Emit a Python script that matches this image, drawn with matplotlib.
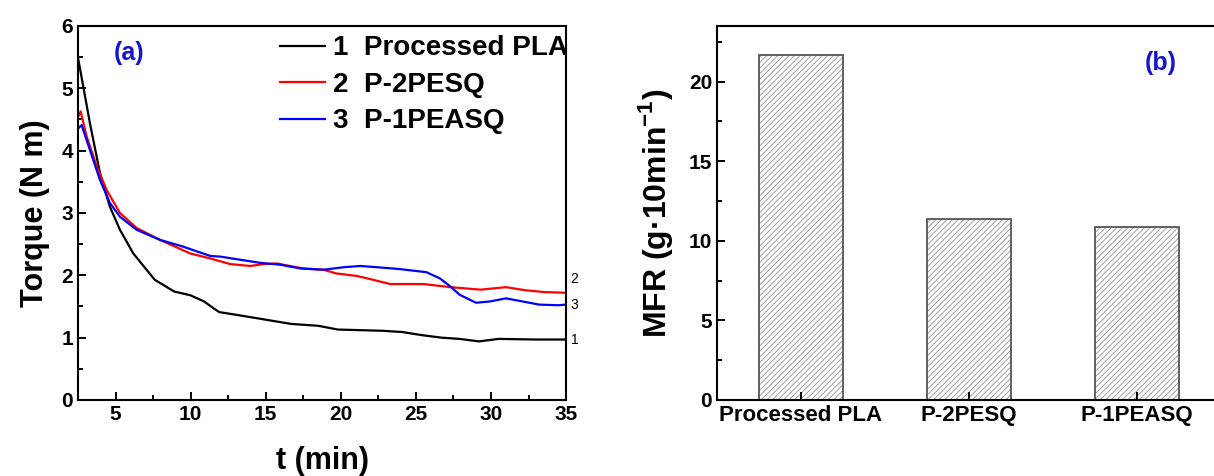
import matplotlib.pyplot as plt
from matplotlib.ticker import MultipleLocator

plt.rcParams['font.family'] = ['Liberation Sans', 'DejaVu Sans']
plt.rcParams['font.weight'] = 'bold'
plt.rcParams['axes.labelweight'] = 'bold'
plt.rcParams['mathtext.fontset'] = 'custom'
plt.rcParams['mathtext.rm'] = 'Liberation Sans:bold'
plt.rcParams['mathtext.bf'] = 'Liberation Sans:bold'
plt.rcParams['hatch.linewidth'] = 0.7

# torque curves
t_pla = [2.52, 3.29, 3.96, 4.62, 5.29, 6.18, 7.06, 7.6, 8.9, 9.98, 10.9, 11.53, 11.9, 13.2,
         15.2, 16.7, 18.5, 19.8, 22.8, 24.1, 25.4, 26.7, 27.9, 29.2, 30.5, 33.0, 35.0]
tq_pla = [5.46, 4.44, 3.64, 3.10, 2.73, 2.35, 2.09, 1.93, 1.74, 1.68, 1.58, 1.47, 1.41, 1.36,
          1.28, 1.22, 1.19, 1.13, 1.11, 1.09, 1.04, 1.00, 0.98, 0.94, 0.98, 0.97, 0.97]

t_pesq = [2.52, 2.67, 3.07, 3.74, 4.40, 5.29, 6.40, 7.94, 9.98, 11.31, 12.64, 13.97, 14.86,
          15.75, 16.6, 17.5, 18.84, 19.7, 21.06, 21.95, 23.28, 25.5, 27.3, 29.3, 31.0, 32.3,
          33.6, 35.0]
tq_pesq = [4.55, 4.63, 4.23, 3.75, 3.37, 3.00, 2.76, 2.57, 2.35, 2.27, 2.18, 2.15, 2.18,
           2.19, 2.15, 2.11, 2.09, 2.03, 1.99, 1.94, 1.86, 1.86, 1.81, 1.77, 1.81, 1.76,
           1.73, 1.72]

t_peasq = [2.52, 2.74, 3.29, 3.96, 4.62, 5.29, 6.40, 7.94, 9.5, 9.98, 11.31, 11.98, 13.3,
           14.64, 15.97, 17.3, 18.84, 20.2, 21.3, 22.4, 23.93, 25.7, 26.6, 27.3, 27.9, 29.0,
           29.9, 31.0, 31.9, 33.2, 34.5, 35.0]
tq_peasq = [4.36, 4.41, 4.01, 3.53, 3.16, 2.94, 2.73, 2.57, 2.46, 2.42, 2.31, 2.30, 2.25,
            2.20, 2.17, 2.11, 2.09, 2.13, 2.15, 2.13, 2.10, 2.05, 1.95, 1.82, 1.69, 1.56,
            1.58, 1.63, 1.59, 1.53, 1.52, 1.53]

samples = ['Processed PLA', 'P-2PESQ', 'P-1PEASQ']
mfr = [21.7, 11.4, 10.9]

fig = plt.figure(figsize=(12.14, 4.76), dpi=100)

# (a) torque vs time
ax1 = fig.add_axes([0.0643, 0.1597, 0.402, 0.7857])
ax1.plot(t_pla, tq_pla, color='black', lw=1.6, label='1  Processed PLA')
ax1.plot(t_pesq, tq_pesq, color='#ff0000', lw=1.6, label='2  P-2PESQ')
ax1.plot(t_peasq, tq_peasq, color='#0000ff', lw=1.6, label='3  P-1PEASQ')
ax1.set_xlim(2.5, 35)
ax1.set_ylim(0, 6)
ax1.xaxis.set_major_locator(MultipleLocator(5))
ax1.xaxis.set_minor_locator(MultipleLocator(2.5))
ax1.yaxis.set_major_locator(MultipleLocator(1))
ax1.yaxis.set_minor_locator(MultipleLocator(0.5))
ax1.tick_params(which='both', direction='in', labelsize=15, width=1.4)
ax1.tick_params(which='major', length=6)
ax1.tick_params(which='minor', length=3.5)
ax1.set_xlabel('t (min)', fontsize=22, labelpad=16)
ax1.set_ylabel('Torque (N m)', fontsize=22, labelpad=8)
ax1.text(5.9, 5.56, '(a)', color='#1515d0', fontsize=18, ha='center', va='center')
for y, s in [(1.94, '2'), (1.52, '3'), (0.97, '1')]:
    ax1.text(35.3, y, s, fontsize=10, fontweight='normal', va='center', clip_on=False)
ax1.legend(loc='upper left', bbox_to_anchor=(0.403, 0.99), frameon=False, fontsize=20,
           handlelength=1.6, handletextpad=0.3, labelspacing=0.38, borderaxespad=0,
           borderpad=0.2)
for sp in ax1.spines.values():
    sp.set_linewidth(1.5)

# (b) melt flow rate
ax2 = fig.add_axes([0.5906, 0.1597, 0.4152, 0.7857])
pos = range(len(samples))
ax2.bar(pos, mfr, width=0.5, facecolor='white', edgecolor='#a0a0a0',
        hatch='//////', linewidth=0)
ax2.bar(pos, mfr, width=0.5, fill=False, edgecolor='#555555', linewidth=1.3)
ax2.set_xlim(-0.5, 2.5)
ax2.set_ylim(0, 23.5)
ax2.set_xticks(list(pos))
ax2.set_xticklabels(samples, fontsize=16)
ax2.yaxis.set_major_locator(MultipleLocator(5))
ax2.yaxis.set_minor_locator(MultipleLocator(2.5))
ax2.tick_params(which='both', direction='in', labelsize=15, width=1.4)
ax2.tick_params(axis='x', labelsize=16)
ax2.tick_params(which='major', length=6)
ax2.tick_params(which='minor', length=3.5)
ax2.set_ylabel(r'MFR (g·10min$^{-1}$)', fontsize=23, labelpad=10)
ax2.text(2.14, 21.2, '(b)', color='#1515d0', fontsize=18, ha='center', va='center')
for sp in ax2.spines.values():
    sp.set_linewidth(1.5)

fig.savefig('out.png', dpi=100)
